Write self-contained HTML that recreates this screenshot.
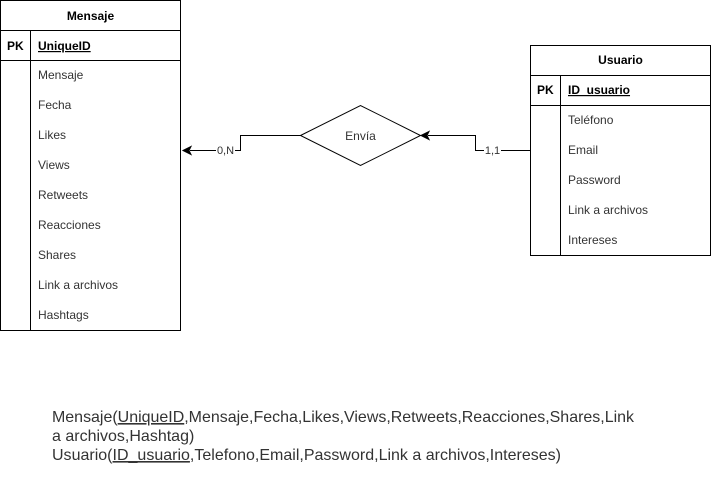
<!DOCTYPE html>
<html><head><meta charset="utf-8"><style>
html,body{margin:0;padding:0;background:#fff;width:711px;height:481px;overflow:hidden}
svg{display:block}
text{font-family:"Liberation Sans",Arial,sans-serif}
</style></head><body>
<svg width="711" height="481" viewBox="0 0 711 481" xmlns="http://www.w3.org/2000/svg">
<g fill="none" stroke="#000" stroke-width="1">
<rect x="0.5" y="0.5" width="180" height="330"/>
<line x1="0.5" y1="30.5" x2="180.5" y2="30.5"/>
<line x1="0.5" y1="60.5" x2="180.5" y2="60.5"/>
<line x1="30.5" y1="30.5" x2="30.5" y2="330.5"/>
<rect x="530.5" y="45.5" width="180" height="210"/>
<line x1="530.5" y1="75.5" x2="710.5" y2="75.5"/>
<line x1="530.5" y1="105.5" x2="710.5" y2="105.5"/>
<line x1="560.5" y1="75.5" x2="560.5" y2="255.5"/>
<polygon points="300.5,135.5 360.5,105.5 420.5,135.5 360.5,165.5"/>
<polyline points="300.5,135.5 240.5,135.5 240.5,150.5 190,150.5"/>
<polyline points="530.5,150.5 475.5,150.5 475.5,135.5 428,135.5"/>
</g>
<polygon points="183,150.5 191,146.5 189,150.5 191,154.5" fill="#000" stroke="#000"/>
<polygon points="421,135.5 429,131.5 427,135.5 429,139.5" fill="#000" stroke="#000"/>
<rect x="216" y="143" width="19" height="13" fill="#fff"/>
<text x="225.5" y="154" font-size="11" text-anchor="middle" fill="#333">0,N</text>
<rect x="484" y="143" width="17" height="13" fill="#fff"/>
<text x="492.5" y="154" font-size="11" text-anchor="middle" fill="#333">1,1</text>
<text x="360.5" y="140" font-size="12" text-anchor="middle" fill="#333">Envía</text>
<g font-size="12">
<text x="90.5" y="20" text-anchor="middle" font-weight="bold">Mensaje</text>
<text x="7" y="50" font-weight="bold">PK</text>
<text x="38" y="50" font-weight="bold" text-decoration="underline">UniqueID</text>
<g fill="#333">
<text x="38" y="79">Mensaje</text>
<text x="38" y="109">Fecha</text>
<text x="38" y="139">Likes</text>
<text x="38" y="169">Views</text>
<text x="38" y="199">Retweets</text>
<text x="38" y="229">Reacciones</text>
<text x="38" y="259">Shares</text>
<text x="38" y="289">Link a archivos</text>
<text x="38" y="319">Hashtags</text>
</g>
<text x="620.5" y="64" text-anchor="middle" font-weight="bold">Usuario</text>
<text x="537" y="94" font-weight="bold">PK</text>
<text x="568" y="94" font-weight="bold" text-decoration="underline">ID_usuario</text>
<g fill="#333">
<text x="568" y="124">Teléfono</text>
<text x="568" y="154">Email</text>
<text x="568" y="184">Password</text>
<text x="568" y="214">Link a archivos</text>
<text x="568" y="244">Intereses</text>
</g>
</g>
<g font-size="16" fill="#333">
<text x="52" y="422" textLength="582" lengthAdjust="spacingAndGlyphs">Mensaje(<tspan text-decoration="underline">UniqueID</tspan>,Mensaje,Fecha,Likes,Views,Retweets,Reacciones,Shares,Link</text>
<text x="52" y="441">a archivos,Hashtag)</text>
<text x="52" y="460" textLength="509" lengthAdjust="spacingAndGlyphs">Usuario(<tspan text-decoration="underline">ID_usuario</tspan>,Telefono,Email,Password,Link a archivos,Intereses)</text>
</g>
</svg>
</body></html>
